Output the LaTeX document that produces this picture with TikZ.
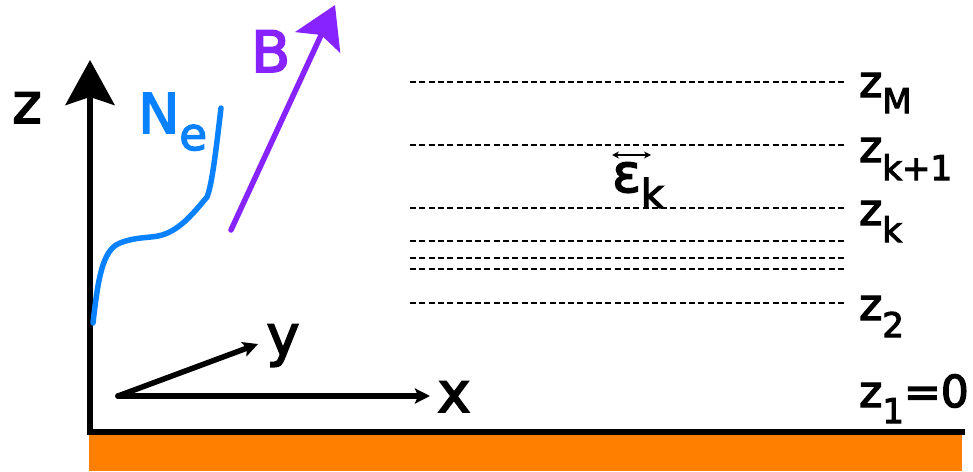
\documentclass[tikz,border=0pt]{standalone}
\usepackage{fontspec}
\setmainfont[FakeBold=3]{DejaVu Sans}
\usetikzlibrary{arrows.meta}
\definecolor{ground}{RGB}{255,128,0}
\definecolor{neblue}{RGB}{10,130,255}
\definecolor{bpurple}{RGB}{135,35,255}
\newcommand{\fs}[1]{\fontsize{#1}{#1}\selectfont}
\newcommand{\lowsub}[2]{\raisebox{-#1pt}{\fs{34}#2}}
\tikzset{
  axis/.style={line width=5.5pt},
  level/.style={line width=2pt, dash pattern=on 6pt off 3.3pt},
  lab/.style={inner sep=0pt, anchor=base west, font=\fs{44}},
  axlab/.style={inner sep=0pt, anchor=base, font=\fs{56}},
}
\begin{document}
\begin{tikzpicture}[x=1pt,y=-1pt]
\useasboundingbox (0,0) rectangle (973,471);
% ground
\fill[ground] (89,433) rectangle (962,471);
\coordinate (ztip) at (90,60);
\coordinate (corner) at (90,432);
\coordinate (gend) at (965,432);
\draw[axis, -{Stealth[length=45pt,width=49pt,inset=8pt]}] (gend) -- (corner) -- (ztip);
% x and y axes
\coordinate (o) at (118,396);
\coordinate (xtip) at (430,396);
\coordinate (ytip) at (258,344);
\draw[axis, line cap=round, -{Stealth[length=15pt,width=15pt,inset=3pt]}] (o) -- (xtip);
\draw[axis, line cap=round, -{Stealth[length=15pt,width=15pt,inset=3pt]}] (o) -- (ytip);
\node[axlab] (zl) at (27,123) {z};
\node[axlab] (xl) at (454,412) {x};
\node[axlab] (yl) at (283,355) {y};
% Ne curve
\draw[neblue, line width=5.5pt, line cap=round, line join=round] (93,323)
  .. controls (98,280) and (102,250) .. (120,243)
  .. controls (135,237) and (148,238) .. (158,236)
  .. controls (178,232) and (192,215) .. (207,197)
  .. controls (212,185) and (216,150) .. (221,108);
\node[inner sep=0pt, anchor=base west, text=neblue, font=\fs{55}] (ne) at (138,133)
  {N\raisebox{-17pt}{\fs{45}e}};
% B arrow
\coordinate (bs) at (231,230);
\coordinate (bt) at (335,5);
\draw[bpurple, line width=5.5pt, line cap=round, -{Stealth[length=41pt,width=49pt,inset=8pt]}] (bs) -- (bt);
\node[inner sep=0pt, anchor=base west, text=bpurple, font=\fs{57}] (bl) at (251,72) {B};
% levels
\foreach \yy in {82,145,208,241,258,269,303}
  \draw[level] (410,\yy) -- (845,\yy);
\node[lab] (zM) at (859,97) {z\lowsub{16}{M}};
\node[lab] (zk1) at (859,162) {z\lowsub{18}{k+1}};
\node[lab] (zk) at (859,225) {z\lowsub{17}{k}};
\node[lab] (z2) at (859,320) {z\lowsub{17}{2}};
\node[lab] (z1) at (859,407) {z\lowsub{16}{1}=0};
% epsilon
\node[inner sep=0pt, anchor=base west, font=\fs{53}] (eps) at (612,192) {ε\raisebox{-16pt}{\fs{40}k}};
\coordinate (ea) at (612,155);
\coordinate (eb) at (651,155);
\draw[line width=2pt, {Stealth[length=7pt,width=7pt]}-{Stealth[length=7pt,width=7pt]}] (ea) -- (eb);
\end{tikzpicture}
\end{document}
